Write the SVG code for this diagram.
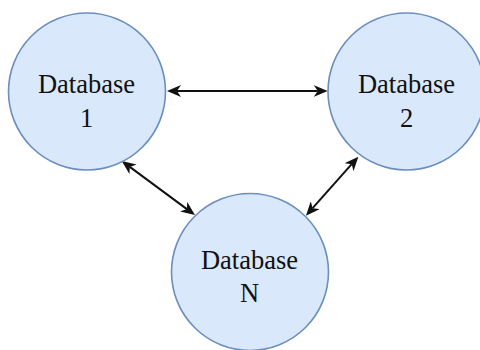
<svg xmlns="http://www.w3.org/2000/svg" width="480" height="350" viewBox="0 0 480 350">
<style>
.node{fill:#dae8fc;stroke:#6c8ebf;stroke-width:1.6}
.lbl{font-family:"Liberation Serif","Times New Roman",serif;font-size:26.5px;fill:#111;text-anchor:middle}
.edge{stroke:#111;stroke-width:2;fill:none;marker-start:url(#ah);marker-end:url(#ah)}
</style>
<defs>
<marker id="ah" viewBox="0 0 14 12" refX="4" refY="6" markerWidth="14" markerHeight="12" markerUnits="userSpaceOnUse" orient="auto-start-reverse">
<path d="M0,0 L14,6 L0,12 L4,6 Z" fill="#111"/>
</marker>
</defs>
<rect width="480" height="350" fill="#fff"/>
<g id="connectors">
<line class="edge" x1="177" y1="91" x2="317.7" y2="91"/>
<line class="edge" x1="129.8" y1="166.9" x2="186.9" y2="209.1"/>
<line class="edge" x1="351.7" y1="164.2" x2="312.6" y2="208.2"/>
</g>
<g id="db1">
<circle class="node" cx="87" cy="91.5" r="78.5"/>
<text class="lbl" x="86.5" y="92.5">Database</text>
<text class="lbl" x="86.5" y="126.5">1</text>
</g>
<g id="db2">
<circle class="node" cx="406.5" cy="91.5" r="78.5"/>
<text class="lbl" x="406.5" y="92.5">Database</text>
<text class="lbl" x="406.5" y="126.5">2</text>
</g>
<g id="dbN">
<circle class="node" cx="250" cy="272" r="78.5"/>
<text class="lbl" x="249.5" y="269">Database</text>
<text class="lbl" x="249.5" y="301.5">N</text>
</g>
</svg>
